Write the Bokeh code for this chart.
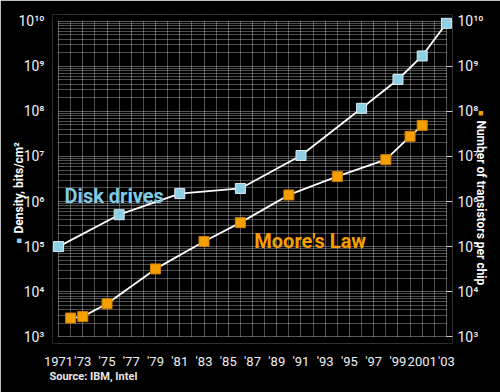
import math
from bokeh.plotting import figure
from bokeh.models import (Range1d, FixedTicker, LogAxis, Label, BoxAnnotation,
                          CustomJSTickFormatter, ColumnDataSource)
from bokeh.embed import file_html
from bokeh.resources import INLINE

# ---- data ----
disk_years = [1971, 1976, 1981, 1986, 1991, 1996, 1999, 2001, 2003]
disk_density = [1.0e5, 5.1e5, 1.5e6, 1.95e6, 1.05e7, 1.17e8, 5.1e8, 1.7e9, 9.0e9]

moore_years = [1972, 1973, 1975, 1979, 1983, 1986, 1990, 1994, 1998, 2000, 2001]
moore_transistors = [2.6e3, 2.8e3, 5.4e3, 3.2e4, 1.3e5, 3.4e5, 1.4e6, 3.6e6, 8.5e6, 2.8e7, 4.9e7]

year_ticks = [1971, 1973, 1975, 1977, 1979, 1981, 1983, 1985, 1987, 1989,
              1991, 1993, 1995, 1997, 1999, 2001, 2003]
year_labels = ["1971", "'73", "'75", "'77", "'79", "'81", "'83", "'85", "'87", "'89",
               "'91", "'93", "'95", "'97", "'99", "2001", "'03"]
year_minor = [1972, 1974, 1976, 1978, 1980, 1982, 1984, 1986, 1988, 1990,
              1992, 1994, 1996, 1998, 2000, 2002]
exponents = [3, 4, 5, 6, 7, 8, 9, 10]

BLUE = "#8fcfe4"
BLUE_TXT = "#7fcbe6"
ORANGE = "#f5a000"
FONT = "Roboto"

x_lo, x_hi = 1970.5, 2003.5
y_lo, y_hi = 10 ** 2.85, 10 ** 10.15

p = figure(width=500, height=392,
           x_range=Range1d(x_lo, x_hi), y_range=Range1d(y_lo, y_hi),
           y_axis_type="log", output_backend="svg", toolbar_location=None,
           background_fill_color="black", border_fill_color="black",
           min_border_left=52, min_border_right=46, min_border_top=14, min_border_bottom=49,
           outline_line_color=None)

major_y = [10.0 ** e for e in exponents]
minor_y = [m * 10.0 ** e for e in exponents[:-1] for m in range(2, 10)]
yticker = FixedTicker(ticks=major_y, minor_ticks=minor_y)
xticker = FixedTicker(ticks=year_ticks, minor_ticks=year_minor)

sup_fmt = CustomJSTickFormatter(code="""
const s = {'0':'\u2070','1':'\u00b9','2':'\u00b2','3':'\u00b3','4':'\u2074','5':'\u2075','6':'\u2076','7':'\u2077','8':'\u2078','9':'\u2079'};
const e = String(Math.round(Math.log10(tick)));
return '10' + e.split('').map(c => s[c]).join('');
""")

# grids
for g, tk in ((p.xgrid[0], xticker), (p.ygrid[0], yticker)):
    g.ticker = tk
    g.grid_line_color = "white"
    g.grid_line_alpha = 0.34
    g.minor_grid_line_color = "white"
    g.minor_grid_line_alpha = 0.3

# mask grid outside data extent
for kw in (dict(right=1970.95), dict(left=2003.05), dict(bottom=1e10 * 1.01), dict(top=1e3 * 0.99)):
    p.add_layout(BoxAnnotation(fill_color="black", fill_alpha=1.0, line_alpha=0,
                               level="underlay", **kw))

# x axis
xa = p.xaxis[0]
xa.ticker = xticker
xa.major_label_overrides = dict(zip(year_ticks, year_labels))
xa.axis_line_color = None
xa.major_tick_line_color = None
xa.minor_tick_line_color = None
xa.major_label_text_color = "#f0f0f0"
xa.major_label_text_font = FONT
xa.major_label_text_font_size = "13px"
xa.major_label_standoff = 4

# left y axis
ya = p.yaxis[0]
ya.ticker = yticker
ya.formatter = sup_fmt
ya.axis_line_color = None
ya.major_tick_line_color = None
ya.minor_tick_line_color = None
ya.major_label_text_color = "#f0f0f0"
ya.major_label_text_font = FONT
ya.major_label_text_font_size = "14px"
ya.major_label_standoff = 2

# right y axis
ra = LogAxis(ticker=yticker, formatter=sup_fmt)
ra.axis_line_color = None
ra.major_tick_line_color = "#cccccc"
ra.major_tick_in = 6
ra.major_tick_out = 0
ra.minor_tick_line_color = None
ra.major_label_text_color = "#f0f0f0"
ra.major_label_text_font = FONT
ra.major_label_text_font_size = "14px"
ra.major_label_standoff = 1
p.add_layout(ra, "right")

# series
disk = ColumnDataSource(dict(x=disk_years, y=disk_density))
moore = ColumnDataSource(dict(x=moore_years, y=moore_transistors))
p.line("x", "y", source=disk, line_color="white", line_width=1.8)
p.line("x", "y", source=moore, line_color="white", line_width=1.8)
p.scatter("x", "y", source=disk, marker="square", size=10,
          fill_color=BLUE, line_color="#d6eef6", line_width=1)
p.scatter("x", "y", source=moore, marker="square", size=10,
          fill_color=ORANGE, line_color="#d08000", line_width=1)

# series labels
p.add_layout(Label(x=1971.5, y=10 ** 6.12, text="Disk drives", text_color=BLUE_TXT,
                   text_font=FONT, text_font_style="bold", text_font_size="20px",
                   text_baseline="alphabetic", text_align="left"))
p.add_layout(Label(x=1987.15, y=10 ** 5.12, text="Moore's Law", text_color=ORANGE,
                   text_font=FONT, text_font_style="bold", text_font_size="20px",
                   text_baseline="alphabetic", text_align="left"))

# axis titles, squares and source: placed in side panels (not clipped), data units
def side_label(x, y, text, color, size, angle, align, bold=False):
    return Label(x=x, y=y, text=text, text_color=color, text_font=FONT,
                 text_font_style="bold" if bold else "normal",
                 text_font_size=size, angle=angle, text_align=align,
                 text_baseline="middle")

p.add_layout(side_label(1967.72, 10 ** 5.29, "Density, bits/cm\u00b2", "white", "12px",
                        math.pi / 2, "left", bold=True), "left")
p.add_layout(side_label(1967.72, 10 ** 5.13, "\u25a0", BLUE, "9px", math.pi / 2, "center"), "above")
p.add_layout(side_label(2005.89, 10 ** 7.80, "Number of transistors per chip", "white", "12px",
                        -math.pi / 2, "left", bold=True), "right")
p.add_layout(side_label(1970.25, 10 ** 2.12, "Source: IBM, Intel", "#e8e8e8", "11px",
                        0, "left", bold=True), "below")
p.add_layout(side_label(2005.89, 10 ** 7.96, "\u25a0", ORANGE, "9px", -math.pi / 2, "center"), "below")

open("out.html", "w").write(file_html(p, INLINE))
